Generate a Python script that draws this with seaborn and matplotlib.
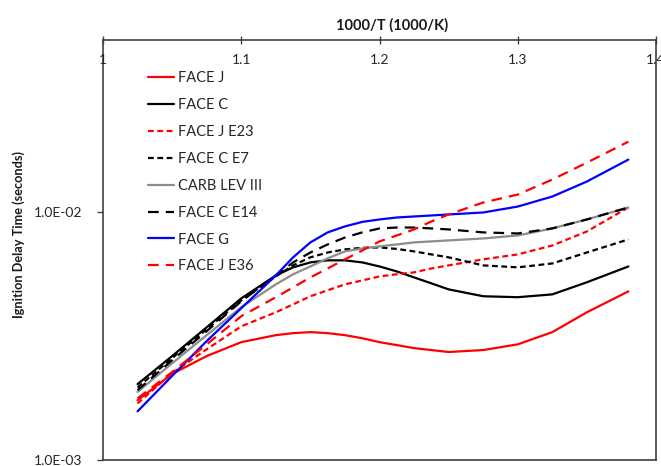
import matplotlib
matplotlib.use("Agg")
import matplotlib.pyplot as plt
import pandas as pd
import seaborn as sns
from matplotlib.ticker import FixedLocator, FuncFormatter, NullLocator, NullFormatter

# 1000/T values (1000/K) at which ignition delay is sampled
inv_temp = [1.025, 1.05, 1.075, 1.10, 1.125, 1.1375, 1.15, 1.1625, 1.175, 1.1875,
            1.20, 1.2125, 1.225, 1.2375, 1.25, 1.275, 1.30, 1.325, 1.35, 1.38]

# Ignition delay times in milliseconds
face_j_ms = [1.74, 2.22, 2.62, 2.98, 3.18, 3.24, 3.27, 3.24, 3.18, 3.09,
             2.98, 2.90, 2.82, 2.77, 2.72, 2.77, 2.92, 3.27, 3.93, 4.77]
face_c_ms = [2.02, 2.62, 3.42, 4.47, 5.53, 5.96, 6.24, 6.36, 6.36, 6.24,
             6.01, 5.74, 5.43, 5.14, 4.86, 4.56, 4.52, 4.64, 5.19, 6.01]
face_j_e23_ms = [1.69, 2.24, 2.79, 3.45, 3.93, 4.23, 4.56, 4.82, 5.09, 5.28,
                 5.48, 5.59, 5.69, 5.90, 6.07, 6.42, 6.72, 7.30, 8.31, 10.38]
face_c_e7_ms = [1.96, 2.57, 3.36, 4.39, 5.48, 6.07, 6.54, 6.84, 7.04, 7.14,
                7.17, 7.07, 6.91, 6.72, 6.54, 6.07, 5.96, 6.18, 6.84, 7.72]
carb_lev_iii_ms = [1.88, 2.45, 3.18, 4.12, 5.09, 5.59, 6.01, 6.48, 6.91, 7.10,
                   7.24, 7.37, 7.51, 7.58, 7.65, 7.79, 8.01, 8.55, 9.29, 10.38]
face_c_e14_ms = [1.91, 2.52, 3.30, 4.35, 5.53, 6.24, 6.84, 7.37, 7.86, 8.24,
                 8.55, 8.62, 8.62, 8.55, 8.47, 8.24, 8.16, 8.55, 9.29, 10.38]
face_g_ms = [1.57, 2.18, 3.01, 4.08, 5.53, 6.54, 7.51, 8.24, 8.71, 9.08,
             9.29, 9.46, 9.55, 9.64, 9.73, 9.91, 10.47, 11.49, 13.20, 16.18]
face_j_e36_ms = [1.77, 2.26, 2.92, 3.79, 4.52, 4.95, 5.43, 5.90, 6.42, 6.97,
                 7.58, 8.01, 8.47, 9.12, 9.73, 10.87, 11.70, 13.45, 15.73, 19.10]

x_ticks = [1.0, 1.1, 1.2, 1.3, 1.4]
x_tick_labels = ["1", "1.1", "1.2", "1.3", "1.4"]
y_ticks = [1e-3, 1e-2]

series = [
    ("FACE J", face_j_ms, "#ff0000", ""),
    ("FACE C", face_c_ms, "#000000", ""),
    ("FACE J E23", face_j_e23_ms, "#ff0000", (2.6, 1.6)),
    ("FACE C E7", face_c_e7_ms, "#000000", (2.6, 1.6)),
    ("CARB LEV III", carb_lev_iii_ms, "#8c8c8c", ""),
    ("FACE C E14", face_c_e14_ms, "#000000", (4.8, 3.2)),
    ("FACE G", face_g_ms, "#0000ff", ""),
    ("FACE J E36", face_j_e36_ms, "#ff0000", (4.8, 3.2)),
]

rows = []
for name, vals, _, _ in series:
    for xv, yv in zip(inv_temp, vals):
        rows.append({"inv_temp": xv, "delay": yv / 1000.0, "fuel": name})
df = pd.DataFrame(rows)

sns.set_style("white")
plt.rcParams["font.family"] = ["Lato", "DejaVu Sans"]

fig = plt.figure(figsize=(6.61, 4.66), dpi=100)
ax = fig.add_axes([103 / 661, 1 - 460 / 466, 553 / 661, 420 / 466])

order = [s[0] for s in series]
sns.lineplot(
    data=df, x="inv_temp", y="delay", hue="fuel", style="fuel",
    hue_order=order, style_order=order,
    palette={s[0]: s[2] for s in series},
    dashes={s[0]: s[3] for s in series},
    linewidth=1.6, ax=ax, legend=False, sort=True,
)

ax.set_yscale("log")
ax.set_xlim(1.0, 1.4)
ax.set_ylim(1e-3, 0.049)

# x axis ticks on the top frame; labels sit just below it, inside the plot
ax.xaxis.set_major_locator(FixedLocator(x_ticks))
ax.xaxis.set_major_formatter(NullFormatter())
ax.xaxis.set_minor_locator(NullLocator())
ax.tick_params(axis="x", which="major", bottom=False, labelbottom=False,
               top=True, labeltop=False, direction="inout", length=6,
               width=1, color="#404040")
for xv, lab in zip(x_ticks, x_tick_labels):
    ax.text(xv, 1 - 20 / 420, lab, transform=ax.get_xaxis_transform(),
            ha="center", va="center", fontsize=10, color="#262626",
            clip_on=False)

ax.yaxis.set_major_locator(FixedLocator(y_ticks))
ax.yaxis.set_minor_locator(NullLocator())
ax.yaxis.set_major_formatter(FuncFormatter(lambda v, p: f"{v:.1E}"))
ax.tick_params(axis="y", which="major", left=True, direction="out", length=4,
               width=1, color="#404040", pad=11, labelsize=10,
               labelcolor="#262626")

ax.xaxis.set_label_position("top")
ax.set_xlabel("1000/T (1000/K)", fontsize=10.5, fontweight="bold", color="#1a1a1a")
ax.xaxis.set_label_coords(0.5226, 1.0238)
ax.set_ylabel("Ignition Delay Time (seconds)", fontsize=9.2,
              fontweight="bold", color="#1a1a1a")
ax.yaxis.set_label_coords(-0.141, (460 - 234.5) / 420)

for sp in ax.spines.values():
    sp.set_color("#404040")
    sp.set_linewidth(1.2)

handles = [plt.Line2D([], [], color=c, lw=1.6,
                      linestyle=(0, d) if d else "-") for _, _, c, d in series]
ax.legend(handles, order, loc="upper left", bbox_to_anchor=(0.0814, 0.925),
          frameon=False, fontsize=10.5, handlelength=1.75, handletextpad=0.3,
          labelspacing=0.88, borderpad=0, borderaxespad=0)

fig.savefig("out.png", dpi=100)
